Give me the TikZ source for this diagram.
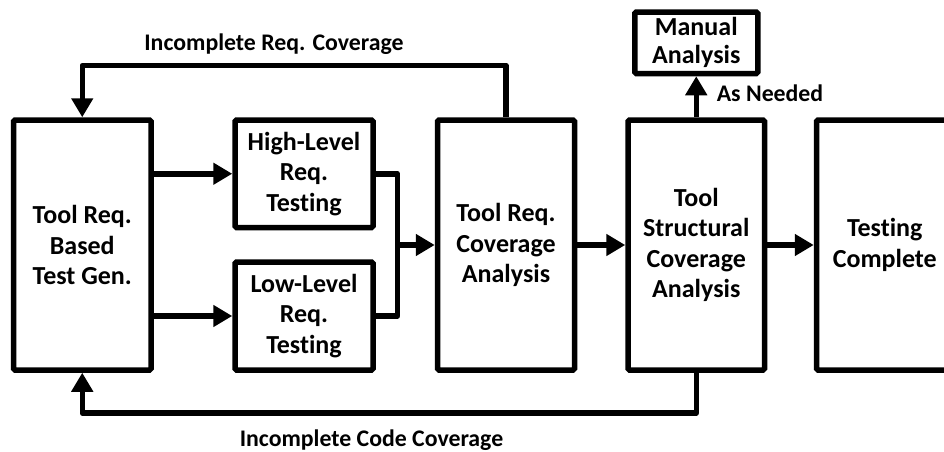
\documentclass[tikz,border=0pt]{standalone}
\usepackage{fontspec}
\setmainfont{Carlito}[Ligatures=NoCommon]
\usetikzlibrary{arrows.meta}
\begin{document}
\begin{tikzpicture}[x=1pt,y=-1pt,
  box/.style={draw, line width=5.5pt, rounded corners=1.5pt, align=center, inner sep=0pt,
    font=\fontsize{26}{30.5}\selectfont\bfseries},
  conn/.style={line width=5.5pt, line join=round},
  arr/.style={conn, -{Triangle[length=19pt,width=21pt]}},
  lbl/.style={font=\fontsize{23.8}{28}\selectfont\bfseries, inner sep=0pt, anchor=base}]
\useasboundingbox (0,0) rectangle (944,451);
\clip (0,0) rectangle (944,451);
\node[box, minimum width=137.5pt, minimum height=250pt] (gen) at (82.25,245) {Tool Req.\\Based\\Test Gen.};
\node[box, minimum width=138pt, minimum height=107.5pt] (hl) at (304,173.75) {High-Level\\Req.\\Testing};
\node[box, minimum width=138pt, minimum height=108pt] (ll) at (304,316) {Low-Level\\Req.\\Testing};
\node[box, minimum width=137pt, minimum height=250pt] (rca) at (506,245) {Tool Req.\\Coverage\\Analysis};
\node[box, minimum width=136.5pt, minimum height=250pt] (sca) at (696.25,245) {Tool\\Structural\\Coverage\\Analysis};
\node[box, minimum width=136.5pt, minimum height=250pt] (done) at (884.75,245) {Testing\\Complete};
\node[box, minimum width=123pt, minimum height=61.5pt, font=\fontsize{26}{28.3}\selectfont\bfseries] (man) at (696.25,42.75) {Manual\\Analysis};
\coordinate (jn) at (397.5,245);
\coordinate (topL) at (82.25,65.5);
\coordinate (botL) at (82.25,413);
\draw[arr] (gen.east |- hl.west) -- (hl.west);
\draw[arr] (gen.east |- ll.west) -- (ll.west);
\draw[conn] (hl.east) -| (jn) |- (ll.east);
\draw[arr] (jn) -- (rca.west);
\draw[arr] (rca.east) -- (sca.west);
\draw[arr] (sca.east) -- (done.west);
\draw[arr] (sca.north) -- (man.south);
\draw[arr] (rca.north) |- (topL) -- (gen.north);
\draw[arr] (sca.south) |- (botL) -- (gen.south);
\node[lbl] (l1) at (274,50) {Incomplete Req. Coverage};
\node[lbl] (l2) at (371.5,446.5) {Incomplete Code Coverage};
\node[lbl] (l3) at (770,101.5) {As Needed};
\end{tikzpicture}
\end{document}
